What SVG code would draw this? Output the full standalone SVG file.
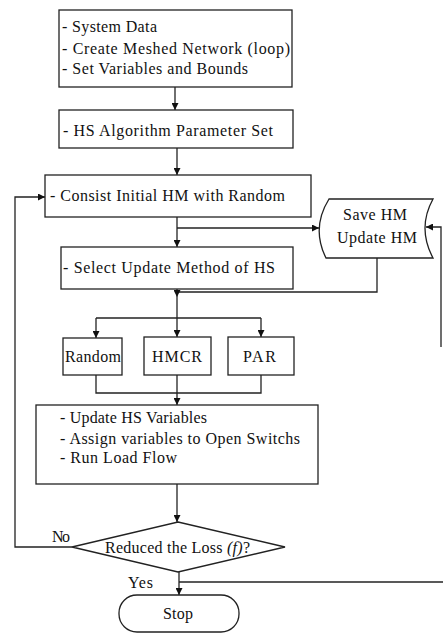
<svg xmlns="http://www.w3.org/2000/svg" width="443" height="634" viewBox="0 0 443 634">
<style>
.b{fill:#fff;stroke:#222;stroke-width:1.3}
.l{fill:none;stroke:#222;stroke-width:1.3}
text{font-family:"Liberation Serif","Times New Roman",serif;font-size:16px;fill:#111}
.c{text-anchor:middle}
</style>
<defs>
<marker id="a" viewBox="0 0 10 10" refX="10" refY="5" markerWidth="7" markerHeight="7" markerUnits="userSpaceOnUse" orient="auto">
<path d="M0,0 L10,5 L0,10 Z" fill="#111"/>
</marker>
</defs>
<rect width="443" height="634" fill="#fff"/>
<g id="connectors">
<line class="l" x1="175" y1="87" x2="175" y2="110" marker-end="url(#a)"/>
<line class="l" x1="177" y1="148" x2="177" y2="175" marker-end="url(#a)"/>
<line class="l" x1="177" y1="217" x2="177" y2="247" marker-end="url(#a)"/>
<line class="l" x1="177" y1="228" x2="319" y2="228" marker-end="url(#a)"/>
<polyline class="l" points="441,347 441,227 426,227" marker-end="url(#a)"/>
<polyline class="l" points="377,258 377,292 177,292"/>
<line class="l" x1="177" y1="289" x2="177" y2="297" marker-end="url(#a)"/>
<line class="l" x1="177" y1="297" x2="177" y2="318"/>
<line class="l" x1="96" y1="318" x2="261" y2="318"/>
<line class="l" x1="96" y1="318" x2="96" y2="338" marker-end="url(#a)"/>
<line class="l" x1="177" y1="318" x2="177" y2="337" marker-end="url(#a)"/>
<line class="l" x1="261" y1="318" x2="261" y2="337" marker-end="url(#a)"/>
<polyline class="l" points="96,375 96,393 261,393 261,375"/>
<line class="l" x1="177" y1="375" x2="177" y2="405" marker-end="url(#a)"/>
<line class="l" x1="177" y1="484" x2="177" y2="522" marker-end="url(#a)"/>
<polyline class="l" points="72,547 15,547 15,197 45,197" marker-end="url(#a)"/>
<line class="l" x1="179" y1="572" x2="179" y2="595" marker-end="url(#a)"/>
<line class="l" x1="179" y1="582" x2="443" y2="582"/>
</g>
<g id="n1">
<rect class="b" x="59" y="10" width="233" height="77"/>
<text x="62" y="32" textLength="95">- System Data</text>
<text x="62" y="54" textLength="228">- Create Meshed Network (loop)</text>
<text x="62" y="74" textLength="186">- Set Variables and Bounds</text>
</g>
<g id="n2">
<rect class="b" x="59" y="110" width="234" height="38"/>
<text x="63" y="136" textLength="210">- HS Algorithm Parameter Set</text>
</g>
<g id="n3">
<rect class="b" x="45" y="175" width="266" height="42"/>
<text x="50" y="201" textLength="235">- Consist Initial HM with Random</text>
</g>
<g id="n_save">
<path class="b" d="M329,199 L433,199 Q417,228 433,258 L326,258 Q311,228 329,199 Z"/>
<text x="343" y="220" textLength="64">Save HM</text>
<text x="337" y="243" textLength="80">Update HM</text>
</g>
<g id="n4">
<rect class="b" x="61" y="247" width="232" height="42"/>
<text x="63" y="273" textLength="212">- Select Update Method of HS</text>
</g>
<g id="n_random">
<rect class="b" x="63" y="338" width="59" height="37"/>
<text x="65" y="362" textLength="56">Random</text>
</g>
<g id="n_hmcr">
<rect class="b" x="144" y="337" width="67" height="38"/>
<text x="152" y="362" textLength="50">HMCR</text>
</g>
<g id="n_par">
<rect class="b" x="228" y="337" width="66" height="38"/>
<text x="243" y="362" textLength="33">PAR</text>
</g>
<g id="n5">
<rect class="b" x="36" y="405" width="282" height="79"/>
<text x="60" y="423" textLength="147">- Update HS Variables</text>
<text x="60" y="444" textLength="240">- Assign variables to Open Switchs</text>
<text x="60" y="463" textLength="117">- Run Load Flow</text>
</g>
<g id="n_decision">
<polygon class="b" points="178,522 285,547 178,572 72,547"/>
<text x="105" y="553" textLength="145">Reduced the Loss <tspan font-style="italic">(f)</tspan>?</text>
<text x="52" y="542" textLength="18">No</text>
<text x="128" y="588" textLength="25">Yes</text>
</g>
<g id="n_stop">
<rect class="b" x="119" y="595" width="120" height="37" rx="18" ry="18"/>
<text x="163" y="619" textLength="30">Stop</text>
</g>
</svg>
